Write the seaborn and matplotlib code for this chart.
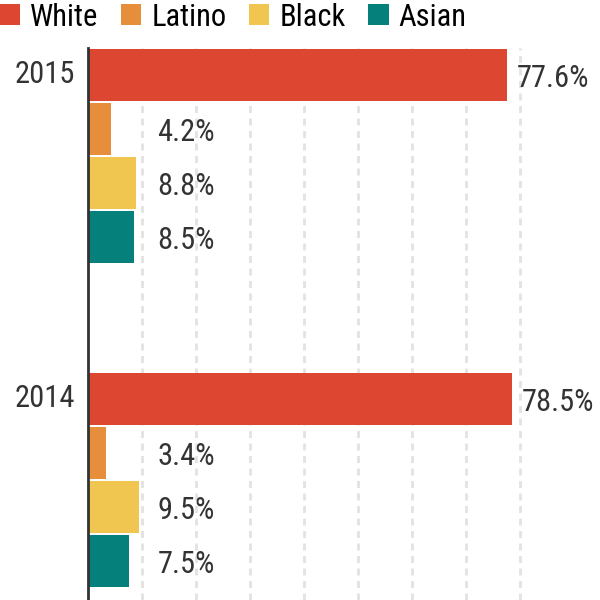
import pandas as pd
import matplotlib
matplotlib.use("Agg")
import matplotlib.pyplot as plt
import seaborn as sns

# Данные с картинки
years = ["2015", "2014"]
groups = ["White", "Latino", "Black", "Asian"]
white = [77.6, 78.5]
latino = [4.2, 3.4]
black = [8.8, 9.5]
asian = [8.5, 7.5]
colors = ["#DD4732", "#E78E3D", "#F0C651", "#05807A"]

sns.set_theme(style="white")
plt.rcParams["font.family"] = ["Roboto Condensed", "DejaVu Sans"]
TEXT = "#333333"
FS = 22

rows = []
for name, vals in zip(groups, [white, latino, black, asian]):
    for yr, v in zip(years, vals):
        rows.append({"year": yr, "group": name, "value": v})
df = pd.DataFrame(rows)

fig = plt.figure(figsize=(6, 6), dpi=100)
ax = fig.add_axes([88 / 600, 0.0, 442.8 / 600, 552 / 600])

sns.barplot(data=df, x="value", y="year", hue="group", order=years,
            hue_order=groups, palette=colors, saturation=1, orient="h",
            width=2 / 3, gap=0.04, linewidth=0, ax=ax, legend=True)

ax.set_xlim(0, 82)
ax.set_ylim(1.3704, -0.3333)
ax.set_xticks(range(10, 90, 10))
ax.set_xticklabels([])
ax.grid(axis="x", color="#e2e2e2", linestyle=(0, (2.5, 2)), linewidth=2)
ax.set_axisbelow(True)
for s in ["top", "right", "bottom"]:
    ax.spines[s].set_visible(False)
ax.spines["left"].set_color(TEXT)
ax.spines["left"].set_linewidth(2)
ax.set_xlabel("")
ax.set_ylabel("")

# подписи лет у первого столбика группы
ax.set_yticks([-0.26, 0.74])
ax.set_yticklabels(years, fontsize=FS, color=TEXT)
ax.tick_params(axis="y", length=0, pad=9)
ax.tick_params(axis="x", length=0)

# подписи значений
for cont in ax.containers:
    for bar in cont:
        v = bar.get_width()
        yc = bar.get_y() + bar.get_height() / 2
        ax.text(max(v, 11) + 1.85, yc + 0.012, f"{v:.1f}%", ha="left",
                va="center", fontsize=FS, color=TEXT, clip_on=False)

handles, labels = ax.get_legend_handles_labels()
ax.get_legend().remove()
fig.legend(handles, labels, loc="center left", bbox_to_anchor=(0.0, 1 - 17 / 600),
           ncol=4, frameon=False, fontsize=FS, handlelength=0.66,
           handleheight=0.66, handletextpad=0.33, columnspacing=0.74,
           borderpad=0, borderaxespad=0, labelcolor="black")

fig.savefig("out.png", dpi=100)
